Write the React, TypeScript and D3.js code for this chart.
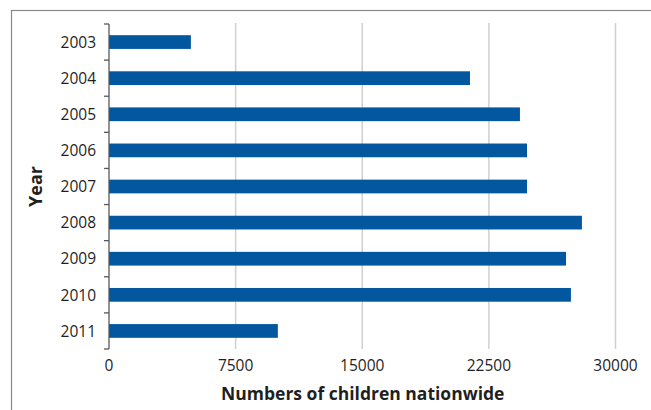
import React from "react";
import * as d3 from "d3";

const years = ["2003", "2004", "2005", "2006", "2007", "2008", "2009", "2010", "2011"];
const children = [4850, 21380, 24340, 24760, 24760, 28010, 27070, 27360, 10000];
const xTicks = [0, 7500, 15000, 22500, 30000];
const xTitle = "Numbers of children nationwide";
const yTitle = "Year";

const W = 651;
const H = 410;
const FONT = "'Open Sans', 'Liberation Sans', sans-serif";

export default function App() {
  const left = 109;
  const right = 615.5;
  const top = 24;
  const bottom = 349;

  const x = d3.scaleLinear().domain([0, 30000]).range([left, right]);
  const y = d3.scaleBand<string>().domain(years).range([top, bottom]).paddingInner(0.62).paddingOuter(0.31);
  const bandStep = (bottom - top) / years.length;
  const tickYs = d3.range(years.length + 1).map((i) => top + i * bandStep);

  return (
    <svg width={W} height={H} style={{ position: "absolute", left: 0, top: 0, background: "#fff" }}>
      <rect x={11.5} y={10.5} width={W} height={H} fill="#fff" stroke="#8a8a8a" strokeWidth={1.2} />
      {xTicks.slice(1).map((t) => (
        <line key={t} x1={x(t)} x2={x(t)} y1={top - 1} y2={bottom} stroke="#d0d0d0" strokeWidth={1.5} />
      ))}
      {years.map((yr, i) => (
        <rect key={yr} x={x(0)} y={y(yr)} width={x(children[i]) - x(0)} height={y.bandwidth()} fill="#02579e" />
      ))}
      <line x1={left} x2={left} y1={top} y2={bottom} stroke="#595959" strokeWidth={1.3} />
      {tickYs.map((ty, i) => (
        <line key={i} x1={left - 5} x2={left} y1={ty} y2={ty} stroke="#595959" strokeWidth={1.3} />
      ))}
      {years.map((yr) => (
        <text key={yr} x={96} y={y(yr)! + y.bandwidth() / 2} dy="0.37em" textAnchor="end" fontFamily={FONT} fontSize={15.5} fill="#1f1f1f">
          {yr}
        </text>
      ))}
      {xTicks.map((t) => (
        <text key={t} x={x(t)} y={371} textAnchor="middle" fontFamily={FONT} fontSize={15.5} fill="#1f1f1f">
          {t}
        </text>
      ))}
      <text x={(left + right) / 2 + 0.5} y={400} textAnchor="middle" fontFamily={FONT} fontSize={17.5} fontWeight="bold" fill="#1f1f1f">
        {xTitle}
      </text>
      <text transform={`translate(42, ${(top + bottom) / 2}) rotate(-90)`} textAnchor="middle" fontFamily={FONT} fontSize={18} fontWeight="bold" fill="#1f1f1f">
        {yTitle}
      </text>
    </svg>
  );
}
